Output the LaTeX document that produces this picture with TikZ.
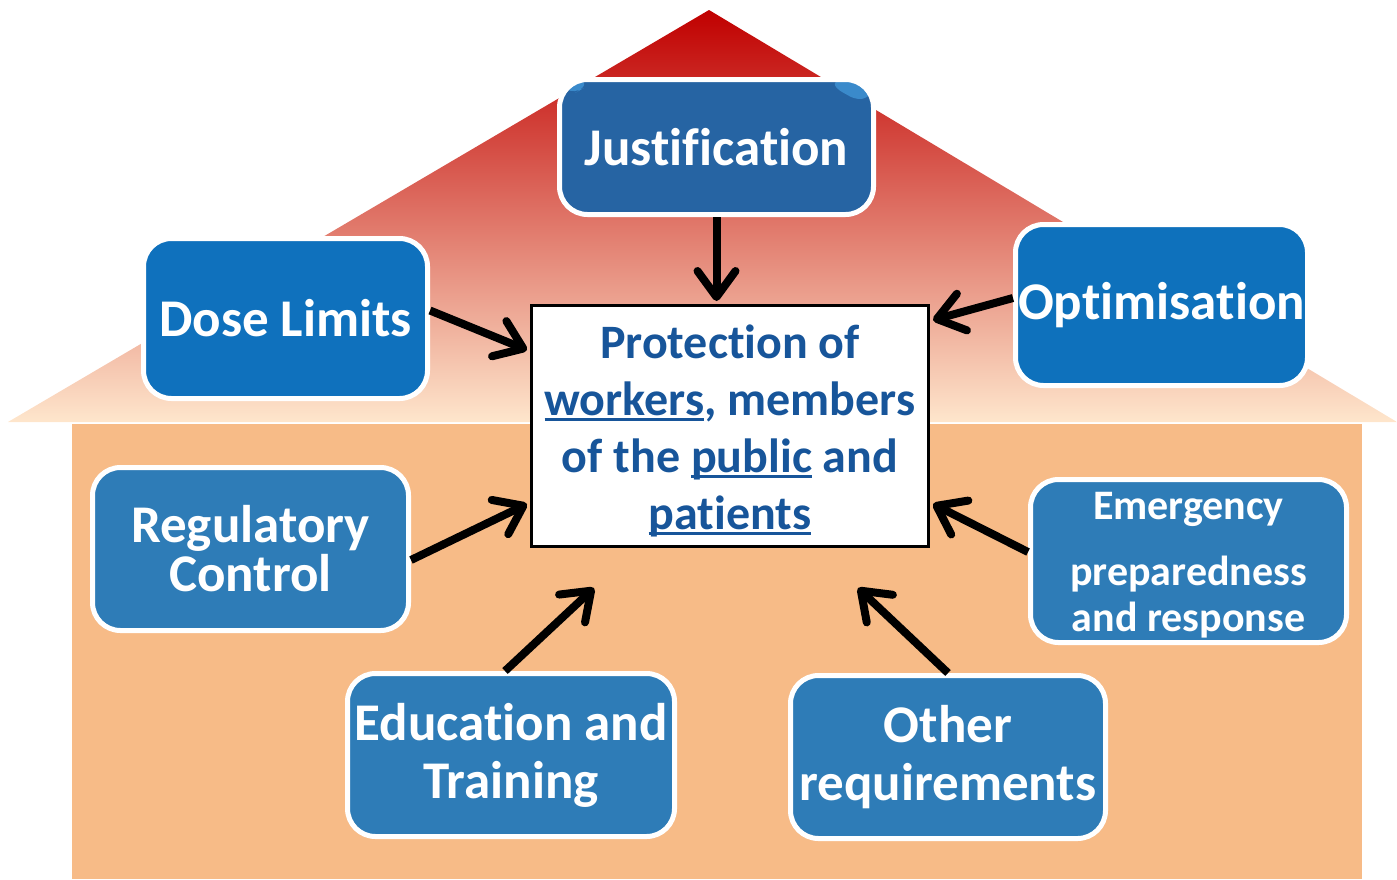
\documentclass[tikz,border=0pt]{standalone}
\usepackage{fontspec}
\setmainfont{Carlito}[Ligatures=NoCommon]
\usetikzlibrary{arrows.meta}
\definecolor{roofTop}{HTML}{C00000}
\definecolor{roofMid}{HTML}{E3775F}
\definecolor{roofBot}{HTML}{FEE6CC}
\definecolor{body}{HTML}{F7BB87}
\definecolor{justBlue}{HTML}{2664A3}
\definecolor{justGloss}{HTML}{3A8ACB}
\definecolor{doseBlue}{HTML}{0F71BD}
\definecolor{optBlue}{HTML}{0E71BC}
\definecolor{optGloss}{HTML}{1379C4}
\definecolor{midBlue}{HTML}{2E7CB7}
\definecolor{ctrText}{HTML}{17559A}
\newcommand\myul[1]{\setbox0\hbox{#1}\rlap{\rule[-5pt]{\wd0}{3pt}}\box0\relax}
\begin{document}
\begin{tikzpicture}[x=1pt,y=-1pt,
  box/.style={draw=white, line width=5pt, rounded corners=28pt, text=white,
    font=\bfseries\fontsize{53}{58}\selectfont, align=center, inner sep=0pt},
  arr/.style={line width=8pt, -{Straight Barb[length=26pt,width=38pt,round]}},
]
\useasboundingbox (0,0) rectangle (1397,879);
% house
\fill[body] (72,424) rectangle (1362,879);
\shade[top color=roofTop, middle color=roofMid, bottom color=roofBot]
  (709,10) -- (1397,422) -- (8,422) -- cycle;
% boxes
\node[box, fill=justBlue, minimum width=314pt, minimum height=135pt,
  path picture={\fill[justGloss] (path picture bounding box.north west) ++(0,-22pt) -- ++(0,22pt) -- ++(40pt,0) -- cycle;
    \fill[justGloss] (path picture bounding box.north east) ++(0,-30pt) -- ++(0,30pt) -- ++(-54pt,0) -- cycle;}]
  (just) at (716.5,147) {Justification};
\node[box, fill=doseBlue, minimum width=284pt, minimum height=160pt] (dose) at (285.5,318.5) {Dose Limits};
\node[box, fill=optBlue, minimum width=292pt, minimum height=161pt,
  path picture={\fill[optGloss] (path picture bounding box.north east) -- ++(0,138pt) -- ++(-226pt,-138pt) -- cycle;}]
  (opt) at (1161.5,305) {Optimisation};
\node[box, fill=midBlue, minimum width=316pt, minimum height=163pt,
  font=\bfseries\fontsize{53}{49}\selectfont] (reg) at (250.5,549) {Regulatory\\Control};
\node[box, fill=midBlue, minimum width=327pt, minimum height=163pt,
  font=\bfseries\fontsize{53}{58}\selectfont] (edu) at (511,755) {Education and\\Training};
\node[box, fill=midBlue, minimum width=315pt, minimum height=163pt,
  font=\bfseries\fontsize{53}{58}\selectfont] (other) at (948,757) {Other\\requirements};
\node[box, fill=midBlue, minimum width=316pt, minimum height=163pt,
  font=\bfseries\fontsize{42}{46}\selectfont] (emerg) at (1188.5,561) {\rule{0pt}{36pt}Emergency\\[20pt]preparedness\\and response};
\node[draw=black, fill=white, line width=3pt, minimum width=397pt, minimum height=241pt,
  text=ctrText, font=\bfseries\fontsize{48}{57}\selectfont, align=center, inner sep=0pt]
  (ctr) at (730,426) {\rule{0pt}{44pt}Protection of\\\myul{workers}, members\\of the \myul{public} and\\\myul{patients}};
% arrow tips
\coordinate (tJ) at (716.5,301);
\coordinate (tD) at (527,350);
\coordinate (tO) at (933,320);
\coordinate (tR) at (527,504);
\coordinate (tE) at (594,588);
\coordinate (tOt) at (858,588);
\coordinate (tEm) at (933,504);
\draw[arr] (just.south) -- (tJ);
\draw[arr] ([yshift=8pt]dose.east) -- (tD);
\draw[arr] ([yshift=7pt]opt.west) -- (tO);
\draw[arr] ([yshift=-11pt]reg.east) -- (tR);
\draw[arr] ([xshift=-6pt]edu.north) -- (tE);
\draw[arr] (other.north) -- (tOt);
\draw[arr] ([yshift=9pt]emerg.west) -- (tEm);
\end{tikzpicture}
\end{document}
